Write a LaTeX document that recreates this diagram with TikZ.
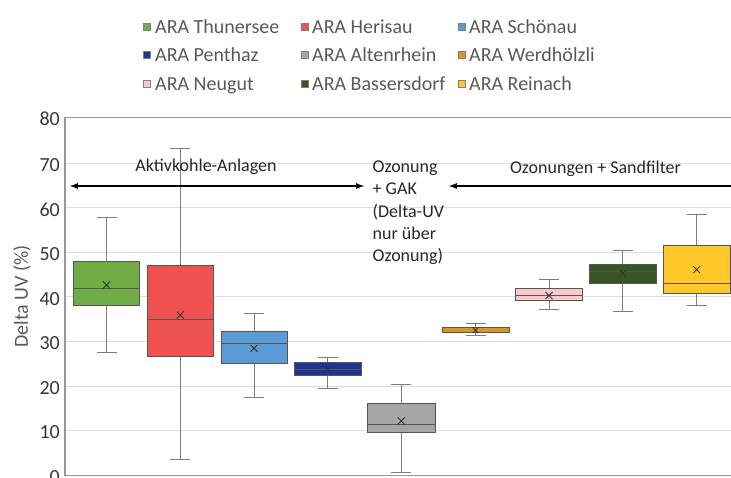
\documentclass[tikz,border=0pt]{standalone}
\usepackage{fontspec}
\setmainfont{Carlito}
\usepackage{tikz}
\usetikzlibrary{arrows,calc}

\definecolor{thunersee}{RGB}{112,173,71}
\definecolor{herisau}{RGB}{240,82,80}
\definecolor{schoenau}{RGB}{91,155,213}
\definecolor{penthaz}{RGB}{30,52,150}
\definecolor{altenrhein}{RGB}{165,165,165}
\definecolor{werdhoelzli}{RGB}{214,150,40}
\definecolor{neugut}{RGB}{250,202,202}
\definecolor{bassersdorf}{RGB}{55,86,35}
\definecolor{reinach}{RGB}{255,200,40}
\definecolor{boxline}{RGB}{85,85,85}
\definecolor{whiskline}{RGB}{125,125,125}
\definecolor{gridgray}{RGB}{222,222,222}
\definecolor{framegray}{RGB}{150,150,150}
\definecolor{legendtext}{RGB}{89,89,89}
\definecolor{ticktext}{RGB}{55,55,55}

\begin{document}
\begin{tikzpicture}[x=1pt,y=1pt,yscale=-1,xscale=1,
  gridline/.style={color=gridgray,line width=1},
  whisk/.style={color=whiskline,line width=1},
  uvbox/.style={draw=boxline,line width=0.9},
  meanx/.style={color=black!80,line width=0.8},
  legkey/.style={draw=gray,line width=0.5},
  legtext/.style={anchor=base west,inner sep=0pt,text=legendtext,font=\fontsize{20}{24}\selectfont},
  ticklabel/.style={anchor=base east,inner sep=0pt,text=ticktext,font=\fontsize{20}{24}\selectfont},
  grouptext/.style={inner sep=0pt,text=black!85,font=\fontsize{18}{22.3}\selectfont},
  grouparrow/.style={line width=1.7,color=black}]
\useasboundingbox (0,0) rectangle (731,477);

%Legend
\draw[legkey, fill=thunersee] (143.5,23) rectangle (150.5,30) ;
\draw (155,33) node (lThun) [legtext] {ARA Thunersee};
\draw[legkey, fill=herisau] (301,23) rectangle (308,30) ;
\draw (312,33) node (lHeri) [legtext] {ARA Herisau};
\draw[legkey, fill=schoenau] (458.5,23) rectangle (465.5,30) ;
\draw (469,33) node (lScho) [legtext] {ARA Schönau};
\draw[legkey, fill=penthaz] (143.5,51.5) rectangle (150.5,58.5) ;
\draw (155,61.5) node (lPent) [legtext] {ARA Penthaz};
\draw[legkey, fill=altenrhein] (301,51.5) rectangle (308,58.5) ;
\draw (312,61.5) node (lAlte) [legtext] {ARA Altenrhein};
\draw[legkey, fill=werdhoelzli] (458.5,51.5) rectangle (465.5,58.5) ;
\draw (469,61.5) node (lWerd) [legtext] {ARA Werdhölzli};
\draw[legkey, fill=neugut] (143.5,80) rectangle (150.5,87) ;
\draw (155,90) node (lNeug) [legtext] {ARA Neugut};
\draw[legkey, fill=bassersdorf] (301,80) rectangle (308,87) ;
\draw (312,90) node (lBass) [legtext] {ARA Bassersdorf};
\draw[legkey, fill=reinach] (458.5,80) rectangle (465.5,87) ;
\draw (469,90) node (lRein) [legtext] {ARA Reinach};

%Grid lines
\draw[gridline] (65,163.3) -- (733,163.3) ;
\draw[gridline] (65,207.9) -- (733,207.9) ;
\draw[gridline] (65,252.3) -- (733,252.3) ;
\draw[gridline] (65,296.8) -- (733,296.8) ;
\draw[gridline] (65,341.2) -- (733,341.2) ;
\draw[gridline] (65,386) -- (733,386) ;
\draw[gridline] (65,430.7) -- (733,430.7) ;
%Frame
\draw[color=framegray, line width=1.3] (65,117.6) rectangle (733,475.4) ;

% Tick labels
\draw (60,125.8) node (t80) [ticklabel] {80};
\draw (60,171.5) node (t70) [ticklabel] {70};
\draw (60,216.1) node (t60) [ticklabel] {60};
\draw (60,260.5) node (t50) [ticklabel] {50};
\draw (60,305) node (t40) [ticklabel] {40};
\draw (60,349.4) node (t30) [ticklabel] {30};
\draw (60,394.2) node (t20) [ticklabel] {20};
\draw (60,438.9) node (t10) [ticklabel] {10};
\draw (60,483.6) node (t0) [ticklabel] {0};
% Axis title
\draw (22,296.5) node (ytitle) [rotate=90, inner sep=0pt, text=legendtext, font=\fontsize{20}{24}\selectfont] {Delta UV (\%)};

%Box: Thunersee
\draw[whisk] (106.5,217.3) -- (106.5,352.3) (96.5,217.3) -- (116.5,217.3) (96.5,352.3) -- (116.5,352.3) ;
\draw[uvbox, fill=thunersee] (73.5,261) rectangle (139.5,305) ;
\draw[color=boxline, line width=0.9] (73.5,288.7) -- (139.5,288.7) ;
\draw[meanx] (106.5,285) +(-3.5,-3.5) -- +(3.5,3.5) +(-3.5,3.5) -- +(3.5,-3.5) ;
%Box: Herisau
\draw[whisk] (180.3,148.3) -- (180.3,459.3) (170.3,148.3) -- (190.3,148.3) (170.3,459.3) -- (190.3,459.3) ;
\draw[uvbox, fill=herisau] (147.3,265) rectangle (213.3,356) ;
\draw[color=boxline, line width=0.9] (147.3,319.3) -- (213.3,319.3) ;
\draw[meanx] (180.3,315) +(-3.5,-3.5) -- +(3.5,3.5) +(-3.5,3.5) -- +(3.5,-3.5) ;
%Box: Schoenau
\draw[whisk] (254,313.3) -- (254,397.3) (244,313.3) -- (264,313.3) (244,397.3) -- (264,397.3) ;
\draw[uvbox, fill=schoenau] (221,331) rectangle (287.5,363) ;
\draw[color=boxline, line width=0.9] (221,343.3) -- (287.5,343.3) ;
\draw[meanx] (254,348.3) +(-3.5,-3.5) -- +(3.5,3.5) +(-3.5,3.5) -- +(3.5,-3.5) ;
%Box: Penthaz
\draw[whisk] (327.7,357) -- (327.7,388.7) (317.7,357) -- (337.7,357) (317.7,388.7) -- (337.7,388.7) ;
\draw[uvbox, fill=penthaz] (294.5,362) rectangle (361,375) ;
\draw[color=boxline, line width=0.9] (294.5,369.5) -- (361,369.5) ;
\draw[meanx] (327.7,368.7) +(-3,-3) -- +(3,3) +(-3,3) -- +(3,-3) ;
%Box: Altenrhein
\draw[whisk] (401.2,384) -- (401.2,472.7) (391.2,384) -- (411.2,384) (391.2,472.7) -- (411.2,472.7) ;
\draw[uvbox, fill=altenrhein] (367.3,403.7) rectangle (435,432.3) ;
\draw[color=boxline, line width=0.9] (367.3,424.3) -- (435,424.3) ;
\draw[meanx] (401.2,421) +(-3.5,-3.5) -- +(3.5,3.5) +(-3.5,3.5) -- +(3.5,-3.5) ;
%Box: Werdhoelzli
\draw[whisk] (475.5,323.7) -- (475.5,335) (465.5,323.7) -- (485.5,323.7) (465.5,335) -- (485.5,335) ;
\draw[uvbox, fill=werdhoelzli] (442,327.8) rectangle (509,332.5) ;
\draw[meanx] (475.5,330.2) +(-3,-3) -- +(3,3) +(-3,3) -- +(3,-3) ;
%Box: Neugut
\draw[whisk] (549,279.3) -- (549,309.3) (539,279.3) -- (559,279.3) (539,309.3) -- (559,309.3) ;
\draw[uvbox, fill=neugut] (515.7,288.7) rectangle (582.3,300) ;
\draw[color=boxline, line width=0.9] (515.7,295.3) -- (582.3,295.3) ;
\draw[meanx] (549,295.5) +(-3.5,-3.5) -- +(3.5,3.5) +(-3.5,3.5) -- +(3.5,-3.5) ;
%Box: Bassersdorf
\draw[whisk] (622.8,250) -- (622.8,311.3) (612.8,250) -- (632.8,250) (612.8,311.3) -- (632.8,311.3) ;
\draw[uvbox, fill=bassersdorf] (589,264.3) rectangle (656.7,283.3) ;
\draw[color=boxline, line width=0.9] (589,271.3) -- (656.7,271.3) ;
\draw[meanx] (622.8,273.3) +(-3.5,-3.5) -- +(3.5,3.5) +(-3.5,3.5) -- +(3.5,-3.5) ;
%Box: Reinach
\draw[whisk] (696.7,214.3) -- (696.7,305.3) (686.7,214.3) -- (706.7,214.3) (686.7,305.3) -- (706.7,305.3) ;
\draw[uvbox, fill=reinach] (663.3,245.7) rectangle (730,293.3) ;
\draw[color=boxline, line width=0.9] (663.3,283.7) -- (730,283.7) ;
\draw[meanx] (696.7,269.7) +(-3.5,-3.5) -- +(3.5,3.5) +(-3.5,3.5) -- +(3.5,-3.5) ;

%Group arrows
\coordinate (aktivL) at (70,186) ;
\coordinate (aktivR) at (364,186) ;
\coordinate (sandL) at (449,186) ;
\coordinate (sandR) at (735,186) ;
\draw[grouparrow, latex-latex] (aktivL) -- (aktivR) ;
\draw[grouparrow, latex-] (sandL) -- (sandR) ;

% Text Node
\draw (206,171) node (aktiv) [grouptext, anchor=base] {Aktivkohle-Anlagen};
% Text Node
\draw (372.5,261.7) node (gak) [grouptext, anchor=base west, align=left] {Ozonung\\+ GAK\\(Delta-UV\\nur über\\Ozonung)};
% Text Node
\draw (595.5,173.3) node (sand) [grouptext, anchor=base] {Ozonungen + Sandfilter};

\end{tikzpicture}
\end{document}
